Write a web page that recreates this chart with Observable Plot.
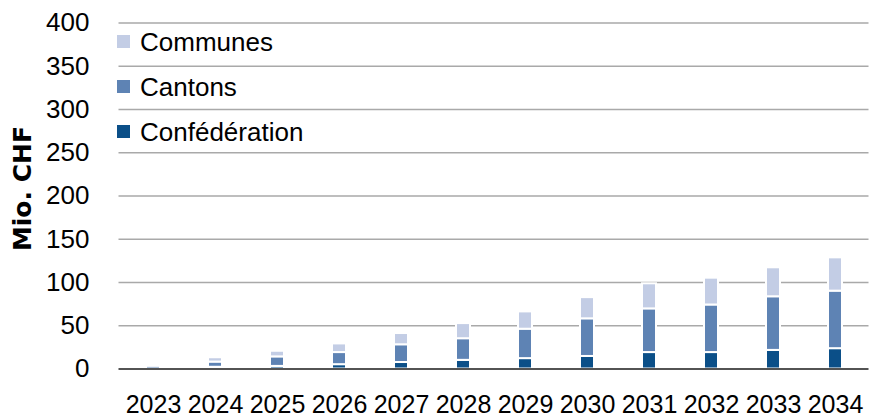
<!DOCTYPE html>
<html>
<head>
<meta charset="utf-8">
<script src="https://cdn.jsdelivr.net/npm/d3@7"></script>
<script src="https://cdn.jsdelivr.net/npm/@observablehq/plot@0.6"></script>
<style>
  html, body { margin: 0; padding: 0; background: #fff; }
  #chart { position: relative; width: 870px; height: 418px; }
  #chart g[aria-label^="x-axis"] text { font-size: 25px; }
  #legend { position: absolute; left: 117px; top: 19px; font-family: "Liberation Sans", Arial, sans-serif; font-size: 26px; color: #000; }
  #legend .row { display: flex; align-items: center; height: 45px; }
  #legend .sw { width: 13px; height: 13px; margin-right: 10px; flex: none; }
  #legend .lbl { position: relative; top: 1px; white-space: nowrap; }
</style>
</head>
<body>
<div id="chart"></div>
<script>
// Years on the x axis
const years = ["2023", "2024", "2025", "2026", "2027", "2028", "2029", "2030", "2031", "2032", "2033", "2034"];

// Amounts per level of government, Mio. CHF
const confederation = [0, 2, 3, 5, 7.5, 10, 12, 14.5, 19, 19, 21.5, 23.5];
const cantons = [3, 6, 11, 14, 20.5, 25, 34, 43.5, 50.5, 55, 62, 66.5];
const communes = [0, 5, 6.5, 10, 13, 17.5, 20, 24.5, 29, 31, 33.5, 38.5];

// Series, bottom to top of each stack, and their colours
const seriesNames = ["Confédération", "Cantons", "Communes"];
const seriesColors = ["#0b4f88", "#5e83b4", "#c3cde5"];

// Value axis
const yTicks = [0, 50, 100, 150, 200, 250, 300, 350, 400];
const yLabel = "Mio. CHF";

const seriesValues = [confederation, cantons, communes];
const rows = [];
years.forEach((year, i) => {
  seriesNames.forEach((name, s) => {
    rows.push({year, series: name, value: seriesValues[s][i]});
  });
});

const chart = Plot.plot({
  width: 870,
  height: 418,
  marginLeft: 118.5,
  marginRight: 1.5,
  marginTop: 22.5,
  marginBottom: 49.5,
  style: {
    fontFamily: "Liberation Sans, Arial, sans-serif",
    fontSize: "26px",
    color: "#000",
    background: "#fff",
    overflow: "visible"
  },
  x: {
    domain: years,
    paddingInner: 0.776,
    paddingOuter: 0.388,
    tickSize: 0,
    tickPadding: 26.5,
    label: null
  },
  y: {
    domain: [0, 400],
    ticks: yTicks,
    tickSize: 0,
    tickPadding: 29.5,
    label: null
  },
  color: {domain: seriesNames, range: seriesColors},
  marks: [
    Plot.ruleY(yTicks.filter(d => d > 0), {stroke: "#a9a9a9", strokeWidth: 1.4}),
    Plot.barY(rows, Plot.stackY({
      x: "year",
      y: "value",
      fill: "series",
      order: seriesNames,
      stroke: "#fff",
      strokeWidth: 2
    })),
    Plot.ruleY([0], {stroke: "#1a1a1a", strokeWidth: 1.6}),
    Plot.text([yLabel], {
      frameAnchor: "left",
      rotate: -90,
      dx: -96,
      dy: -7.5,
      textAnchor: "middle",
      lineAnchor: "middle",
      fontFamily: "DejaVu Sans, sans-serif",
      fontWeight: "bold",
      fontSize: 25,
      fill: "#000"
    })
  ]
});

const container = document.getElementById("chart");
container.appendChild(chart);

// Legend, top entry first
const legend = d3.select(container).append("div").attr("id", "legend");
seriesNames.slice().reverse().forEach(name => {
  const row = legend.append("div").attr("class", "row");
  row.append("div").attr("class", "sw").style("background", seriesColors[seriesNames.indexOf(name)]);
  row.append("span").attr("class", "lbl").text(name);
});
</script>
</body>
</html>
